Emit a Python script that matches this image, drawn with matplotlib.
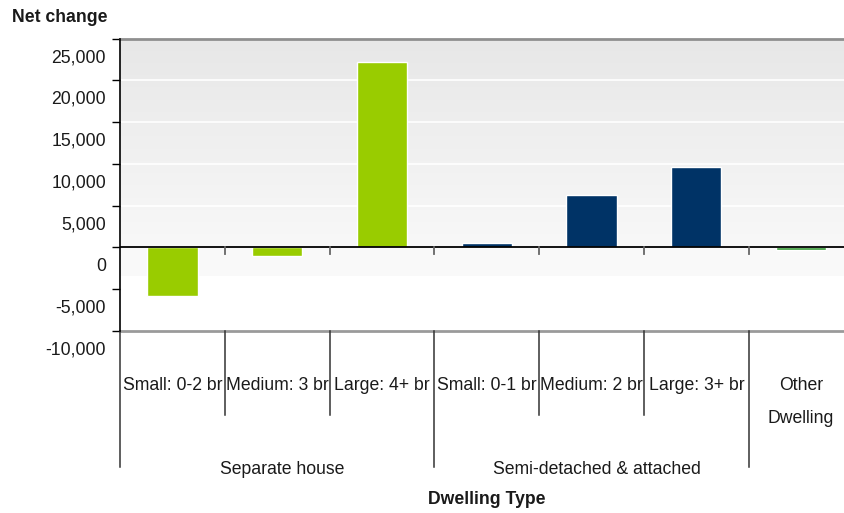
import matplotlib
matplotlib.use("Agg")
import matplotlib.pyplot as plt
import numpy as np
from matplotlib.colors import LinearSegmentedColormap
import matplotlib.transforms as mtransforms

plt.rcParams['font.family'] = ['Liberation Sans', 'DejaVu Sans']

# ---- data ----
categories = ["Small: 0-2 br", "Medium: 3 br", "Large: 4+ br",
              "Small: 0-1 br", "Medium: 2 br", "Large: 3+ br", "Other\nDwelling"]
values = [-5900, -1100, 22200, 550, 6300, 9600, -300]
bar_groups = ["Separate house", "Separate house", "Separate house",
              "Semi-detached & attached", "Semi-detached & attached",
              "Semi-detached & attached", "Other"]
groups = ["Separate house", "Semi-detached & attached"]
group_spans = [(0, 3), (3, 6)]
group_colors = {"Separate house": "#99cc00",
                "Semi-detached & attached": "#003366",
                "Other": "#339933"}
yticks = [-10000, -5000, 0, 5000, 10000, 15000, 20000, 25000]
ytick_labels = ["-10,000", "-5,000", "0", "5,000", "10,000", "15,000", "20,000", "25,000"]

FS = 12.7
W, H = 844, 513
fig = plt.figure(figsize=(W / 100, H / 100), dpi=100)
left, right, top, bottom = 120, 853.5, 38.7, 330.7
ax = fig.add_axes([left / W, 1 - bottom / H, (right - left) / W, (bottom - top) / H])

n = len(categories)
ax.set_xlim(0, n)
ax.set_ylim(-10000, 25000)

# background gradient
cmap = LinearSegmentedColormap.from_list("bg", ["#e7e7e7", "#f8f8f8"])
grad = np.linspace(0, 1, 256).reshape(-1, 1)
ax.imshow(grad, extent=[0, n, 0, 25000], aspect='auto', cmap=cmap, zorder=0,
          origin='upper')
ax.axhspan(-3500, 0, color="#f9f9f9", zorder=0, lw=0)

for g in [5000, 10000, 15000, 20000]:
    ax.axhline(g, color="white", lw=1.2, zorder=1)

x = np.arange(n) + 0.5
cols = [group_colors[g] for g in bar_groups]
ax.bar(x, values, width=0.48, color=cols, edgecolor="white", linewidth=1, zorder=3)

ax.axhline(0, color="black", lw=1.3, zorder=4)
for b in range(1, n):
    ax.plot([b, b], [0, -850], color="#666666", lw=1.3, zorder=4)

# spines
ax.spines["right"].set_visible(False)
ax.spines["top"].set_color("#8f8f8f")
ax.spines["top"].set_linewidth(2)
ax.spines["bottom"].set_color("#9a9a9a")
ax.spines["bottom"].set_linewidth(2)
ax.spines["left"].set_color("black")
ax.spines["left"].set_linewidth(1.2)
ax.spines["left"].set_zorder(6)

ax.set_xticks([])
ax.set_yticks(yticks)
ax.set_yticklabels([])
ax.tick_params(axis='y', length=6, width=1, color="black", direction='out')

# tick labels shifted down by half a band
offset = mtransforms.ScaledTranslation(0, -19 / 100, fig.dpi_scale_trans)
blend = mtransforms.blended_transform_factory(ax.transAxes, ax.transData)
for v, lab in zip(yticks, ytick_labels):
    ax.text(-14 / (right - left), v, lab, transform=blend + offset, ha='right',
            va='center', fontsize=FS, color="#1a1a1a", clip_on=False)

# category separators and labels below axes
xb = mtransforms.blended_transform_factory(ax.transData, ax.transAxes)
ah = bottom - top
def ay(py):
    return (bottom - py) / ah

long_lines = [0, 3, 6]
for b in range(0, n):
    end = 467 if b in long_lines else 415
    ax.plot([b, b], [0, ay(end)], transform=xb, color="#333333", lw=1.1,
            clip_on=False, zorder=5)

for i, lab in enumerate(categories):
    yy = ay(402) if "\n" in lab else ay(385)
    ax.text(i + 0.5, yy, lab, transform=xb, ha='center', va='center',
            fontsize=FS, color="#1a1a1a", linespacing=2.25)

for g, (a, b) in zip(groups, group_spans):
    ax.text((a + b) / 2 + 0.05, ay(469), g, transform=xb, ha='center', va='center',
            fontsize=FS, color="#1a1a1a")

ax.text(0.5 * n, ay(500), "Dwelling Type", transform=xb, ha='center', va='center',
        fontsize=FS, fontweight='bold', color="#1a1a1a")
fig.text(12 / W, 1 - 18 / H, "Net change", ha='left', va='center', fontsize=FS,
         fontweight='bold', color="#1a1a1a")

fig.savefig("out.png", dpi=100)
